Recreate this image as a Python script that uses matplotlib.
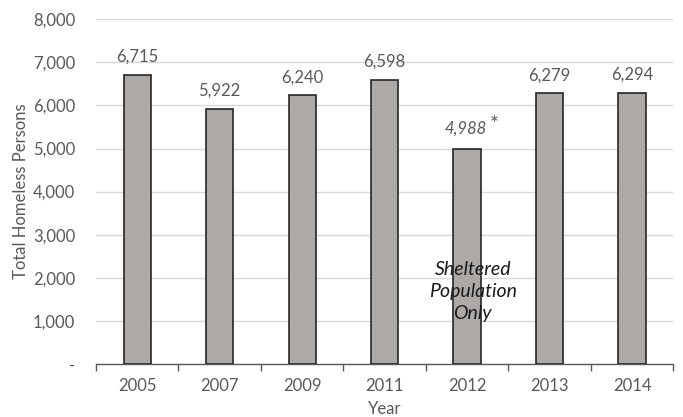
import matplotlib.pyplot as plt
import numpy as np

years = ['2005', '2007', '2009', '2011', '2012', '2013', '2014']
persons = [6715, 5922, 6240, 6598, 4988, 6279, 6294]
yticks = [0, 1000, 2000, 3000, 4000, 5000, 6000, 7000, 8000]

plt.rcParams['font.family'] = ['Lato', 'DejaVu Sans']
txt = '#595959'

fig = plt.figure(figsize=(6.83, 4.17), dpi=100)
ax = fig.add_axes([0.1406, 0.127, 0.845, 0.827])

x = np.arange(len(years))
ax.bar(x, persons, width=0.33, color='#ADA9A7', edgecolor='#262626', linewidth=1.2, zorder=3)

for i, v in enumerate(persons):
    if years[i] == '2012':
        ax.text(i - 0.02, v + 290, f'{v:,}', ha='center', va='bottom', fontsize=12,
                style='italic', color=txt)
        ax.text(i + 0.33, v + 320, '*', ha='center', va='bottom', fontsize=15, color=txt)
    else:
        ax.text(i, v + 230, f'{v:,}', ha='center', va='bottom', fontsize=12, color=txt)

ax.text(4.07, 1690, 'Sheltered\nPopulation\nOnly', ha='center', va='center', fontsize=14,
        style='italic', color='#1a1a1a', linespacing=1.35, zorder=4)

ax.set_xlim(-0.5, len(years) - 0.5)
ax.set_ylim(0, 8000)
ax.set_yticks(yticks)
ax.set_yticklabels(['-' if t == 0 else f'{t:,}' for t in yticks])
ax.set_xticks(x)
ax.set_xticklabels(years)
ax.set_xticks(np.arange(len(years) + 1) - 0.5, minor=True)
ax.tick_params(axis='x', which='major', length=0, pad=10, labelsize=12, labelcolor=txt)
ax.tick_params(axis='x', which='minor', length=5, color='#595959', width=1)
ax.tick_params(axis='y', length=0, pad=15, labelsize=12, labelcolor=txt)

ax.grid(axis='y', color='#D9D9D9', linewidth=1, zorder=0)
for s in ['top', 'right', 'left']:
    ax.spines[s].set_visible(False)
ax.spines['bottom'].set_color('#595959')
ax.spines['bottom'].set_linewidth(1)

ax.set_xlabel('Year', fontsize=12, color=txt, labelpad=5)
ax.set_ylabel('Total Homeless Persons', fontsize=12, color=txt, labelpad=3)

fig.savefig('out.png', dpi=100)
